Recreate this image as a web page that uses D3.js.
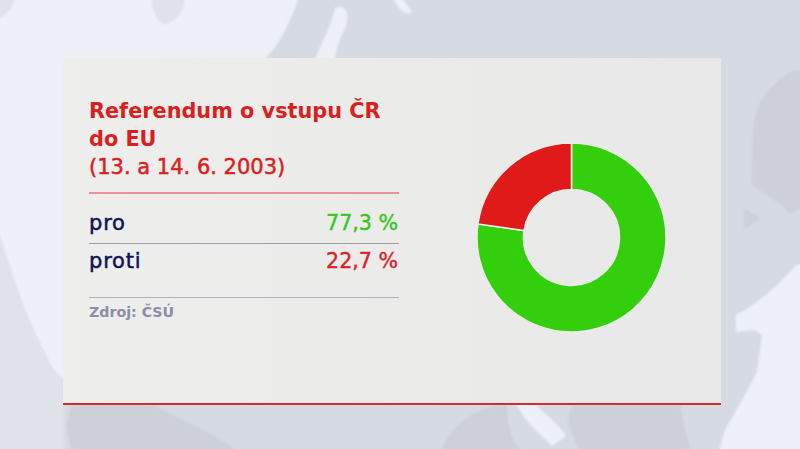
<!DOCTYPE html>
<html>
<head>
<meta charset="utf-8">
<script src="https://cdn.jsdelivr.net/npm/d3@7"></script>
<style>
  html, body { margin: 0; padding: 0; background: #e8ebf2; }
  svg { display: block; font-family: "DejaVu Sans", sans-serif; }
</style>
</head>
<body>
<script>
var categories = ['pro', 'proti'];
var values = [77.3, 22.7];
var valueLabels = ['77,3 %', '22,7 %'];
var sliceColors = ['#33cf0c', '#e01a18'];
var valueColors = ['#35c81c', '#d8232a'];
var titleLines = ['Referendum o vstupu ČR', 'do EU', '(13. a 14. 6. 2003)'];
var source = 'Zdroj: ČSÚ';

// rough outlines of the map behind the panel
var seaShapes = [
  'M-5,-5 L300,-5 C290,22 280,45 262,62 L250,90 L64,200 L64,380 L52,368 L30,322 L15,282 L-5,222 Z',
  'M335,8 C345,4 350,12 346,26 C340,38 334,52 334,70 L312,70 C316,50 330,32 335,8 Z',
  'M392,-5 L400,-5 L412,12 C406,16 398,10 392,-5 Z',
  'M805,262 L795,266 C775,290 750,308 736,315 L736,332 L755,330 L762,335 L757,372 L745,395 L725,430 L718,454 L805,454 Z',
  'M515,400 L532,400 C545,415 560,425 566,436 L552,446 C540,432 525,425 515,400 Z'
];
var darkShapes = [
  'M805,70 L790,72 C770,85 755,100 753,130 C752,155 752,170 752,185 C765,195 785,205 790,214 L805,205 Z',
  'M744,208 L760,218 L744,230 Z',
  'M72,402 L150,402 C175,420 215,430 240,454 L72,454 L66,425 Z',
  'M440,454 C450,430 460,415 505,402 C510,415 505,440 525,454 Z',
  'M575,402 L680,402 C682,425 690,440 690,454 L580,454 C575,435 560,420 575,402 Z'
];
var hazeShapes = [
  'M152,-5 C150,10 158,24 166,24 C178,20 186,10 184,-5 Z',
  'M-5,-5 L16,-5 C14,5 8,16 -5,20 Z',
  'M-5,222 L15,282 L30,322 L52,368 L64,380 L64,454 L-5,454 Z'
];

var width = 800, height = 449;

var svg = d3.select('body').append('svg')
  .attr('width', width)
  .attr('height', height);

var defs = svg.append('defs');
defs.append('filter').attr('id', 'soft')
  .append('feGaussianBlur').attr('stdDeviation', 1.2);
var panelFill = defs.append('linearGradient').attr('id', 'panelFill');
panelFill.append('stop').attr('offset', 0).attr('stop-color', '#eeeeec');
panelFill.append('stop').attr('offset', 1).attr('stop-color', '#e8e8e8');

var bg = svg.append('g').attr('filter', 'url(#soft)');
bg.append('rect').attr('x', -5).attr('y', -5).attr('width', 810).attr('height', 460).attr('fill', '#d6dae2');
function shapes(list, cls, color) {
  bg.selectAll('.' + cls)
    .data(list)
    .enter()
    .append('path')
    .attr('class', cls)
    .attr('d', function(d) { return d; })
    .attr('fill', color);
}
shapes(seaShapes, 'sea', '#edf0f6');
shapes(darkShapes, 'dark', '#cdd0d6');
shapes(hazeShapes, 'haze', '#dfe2e8');

// panel
svg.append('rect')
  .attr('x', 63).attr('y', 58)
  .attr('width', 658).attr('height', 346)
  .attr('fill', 'url(#panelFill)');
svg.append('rect')
  .attr('x', 63).attr('y', 403)
  .attr('width', 658).attr('height', 2)
  .attr('fill', '#db2a2f');

// title
svg.selectAll('.title')
  .data(titleLines)
  .enter()
  .append('text')
  .attr('class', 'title')
  .attr('x', 89)
  .attr('y', function(d, i) { return 117.5 + i * 28; })
  .attr('fill', '#d91f20')
  .attr('font-size', function(d, i) { return i < 2 ? 20.8 : 21; })
  .attr('font-weight', function(d, i) { return i < 2 ? 700 : 400; })
  .attr('stroke', '#d91f20')
  .attr('stroke-width', function(d, i) { return i < 2 ? 0 : 0.5; })
  .text(function(d) { return d; });

var x1 = 89, x2 = 399;

function rule(y, color) {
  svg.append('line')
    .attr('x1', x1).attr('x2', x2)
    .attr('y1', y).attr('y2', y)
    .attr('stroke', color)
    .attr('stroke-width', 1);
}
rule(193, '#e3393c');
rule(243.5, '#9a9db0');
rule(297.5, '#b0b2bd');

// table rows
var rowY = d3.scalePoint().domain(categories).range([230, 268]);

svg.selectAll('.rowname')
  .data(categories)
  .enter()
  .append('text')
  .attr('class', 'rowname')
  .attr('x', x1)
  .attr('y', function(d) { return rowY(d); })
  .attr('fill', '#0d1254')
  .attr('stroke', '#0d1254')
  .attr('stroke-width', 0.5)
  .attr('font-size', 21)
  .attr('letter-spacing', 0.8)
  .text(function(d) { return d; });

svg.selectAll('.rowvalue')
  .data(categories)
  .enter()
  .append('text')
  .attr('class', 'rowvalue')
  .attr('x', x2 - 1)
  .attr('y', function(d) { return rowY(d); })
  .attr('text-anchor', 'end')
  .attr('fill', function(d, i) { return valueColors[i]; })
  .attr('stroke', function(d, i) { return valueColors[i]; })
  .attr('stroke-width', 0.4)
  .attr('font-size', 20.6)
  .text(function(d, i) { return valueLabels[i]; });

svg.append('text')
  .attr('x', x1)
  .attr('y', 317)
  .attr('fill', '#8b8ea6')
  .attr('font-size', 14.2)
  .attr('font-weight', 700)
  .text(source);

// donut
var pie = d3.pie().sort(null);
var arc = d3.arc().innerRadius(48).outerRadius(94.5);

svg.append('g')
  .attr('transform', 'translate(571.5,237.5)')
  .selectAll('path')
  .data(pie(values))
  .enter()
  .append('path')
  .attr('d', arc)
  .attr('fill', function(d, i) { return sliceColors[i]; })
  .attr('stroke', '#ebebe9')
  .attr('stroke-width', 1.5);
</script>
</body>
</html>
